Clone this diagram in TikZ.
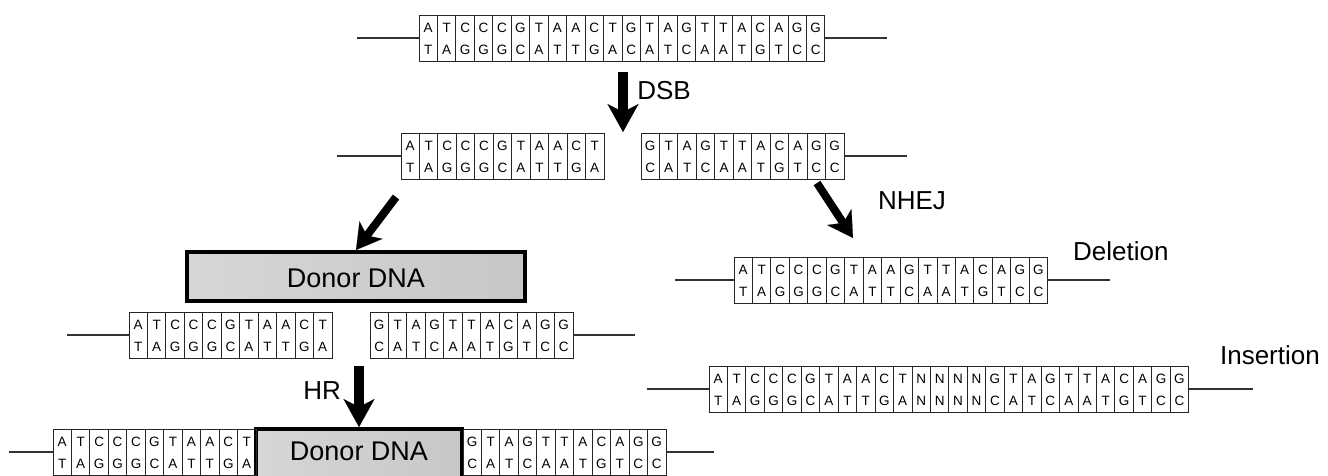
\documentclass[tikz,border=0pt]{standalone}
\usepackage{fontspec}
\setmainfont{Liberation Sans}
\usetikzlibrary{arrows.meta}
\def\cw{18.45}
\def\rh{23}
\tikzset{
  nt/.style={inner sep=0pt, text height=9.7pt, text depth=0pt, font=\fontsize{13.5}{13.5}\selectfont},
  cell/.style={draw=black!85, line width=0.9pt},
  strand/.style={draw=black!80, line width=1.2pt},
  lab/.style={inner sep=0pt, font=\fontsize{26}{26}\selectfont, text height=18.6pt, text depth=0pt},
  dtext/.style={inner sep=0pt, font=\fontsize{27}{27}\selectfont, text height=19.3pt, text depth=0pt},
  bigarrow/.style={line width=9.5pt, -{Stealth[length=28pt,width=31pt,inset=8pt,line width=0.1pt]}},
  diagarrow/.style={line width=8pt, -{Stealth[length=25pt,width=29pt,inset=7pt,line width=0.1pt]}},
  donorbox/.style={draw=black, line width=4pt, left color=black!16, middle color=black!2, right color=black!22, inner sep=0pt},
}
\newcommand\dnablock[6]{%
  \foreach \k in {1,...,#4}{
    \draw[cell] ({#2+(\k-1)*\cw},{#3-\rh}) rectangle ++(\cw,{2*\rh});
  }
  \foreach \l [count=\k] in {#5}{
    \node[nt] (#1t\k) at ({#2+(\k-0.5)*\cw},{#3-10.5}) {\l};
  }
  \foreach \l [count=\k] in {#6}{
    \node[nt] (#1b\k) at ({#2+(\k-0.5)*\cw},{#3+11.5}) {\l};
  }
}
\begin{document}
\begin{tikzpicture}[x=1pt,y=-1pt]
\useasboundingbox (0,0) rectangle (1328,475);
\clip (0,0) rectangle (1328,475);
% top strand
\draw[strand] (357,38) -- (419,38);
\draw[strand] (825,38) -- (887,38);
\dnablock{top}{419}{38}{22}{A,T,C,C,C,G,T,A,A,C,T,G,T,A,G,T,T,A,C,A,G,G}{T,A,G,G,G,C,A,T,T,G,A,C,A,T,C,A,A,T,G,T,C,C}
% after DSB
\draw[strand] (337,156) -- (401,156);
\draw[strand] (844,156) -- (907,156);
\dnablock{ml}{401}{156}{11}{A,T,C,C,C,G,T,A,A,C,T}{T,A,G,G,G,C,A,T,T,G,A}
\dnablock{mr}{641}{156}{11}{G,T,A,G,T,T,A,C,A,G,G}{C,A,T,C,A,A,T,G,T,C,C}
% donor 1
\node[donorbox, minimum width=338pt, minimum height=49pt] (donor1) at (356,276.5) {};
\node[dtext] (donor1t) at (356,277.5) {Donor DNA};
% lower pair
\draw[strand] (67,335) -- (129,335);
\draw[strand] (573,335) -- (635,335);
\dnablock{ll}{129}{335}{11}{A,T,C,C,C,G,T,A,A,C,T}{T,A,G,G,G,C,A,T,T,G,A}
\dnablock{lr}{370}{335}{11}{G,T,A,G,T,T,A,C,A,G,G}{C,A,T,C,A,A,T,G,T,C,C}
% bottom
\node[donorbox, minimum width=206pt, minimum height=62pt] (donor2) at (359,460) {};
\node[dtext] (donor2t) at (359,451) {Donor DNA};
\draw[strand] (9,452) -- (53,452);
\draw[strand] (666,452) -- (714,452);
\dnablock{bl}{53}{452}{11}{A,T,C,C,C,G,T,A,A,C,T}{T,A,G,G,G,C,A,T,T,G,A}
\dnablock{br}{463}{452}{11}{G,T,A,G,T,T,A,C,A,G,G}{C,A,T,C,A,A,T,G,T,C,C}
% deletion
\draw[strand] (675,280) -- (734,280);
\draw[strand] (1048,280) -- (1110,280);
\dnablock{del}{734}{280}{17}{A,T,C,C,C,G,T,A,A,G,T,T,A,C,A,G,G}{T,A,G,G,G,C,A,T,T,C,A,A,T,G,T,C,C}
% insertion
\draw[strand] (647,389) -- (709,389);
\draw[strand] (1189,389) -- (1253,389);
\dnablock{ins}{709}{389}{26}{A,T,C,C,C,G,T,A,A,C,T,N,N,N,N,G,T,A,G,T,T,A,C,A,G,G}{T,A,G,G,G,C,A,T,T,G,A,N,N,N,N,C,A,T,C,A,A,T,G,T,C,C}
% arrows
\coordinate (dsbS) at (623,72);
\coordinate (dsbE) at (623,132);
\draw[bigarrow] (dsbS) -- (dsbE);
\coordinate (lfS) at (396,197);
\draw[diagarrow] (lfS) -- (donor1.north);
\coordinate (nhS) at (817,183);
\coordinate (nhE) at (853,238);
\draw[diagarrow] (nhS) -- (nhE);
\coordinate (hrS) at (359,366);
\draw[bigarrow] (hrS) -- (donor2.north);
% labels
\node[lab] (dsb) at (664,90) {DSB};
\node[lab] (nhej) at (912,200) {NHEJ};
\node[lab, anchor=west] (dell) at (1073,251) {Deletion};
\node[lab, anchor=east] (insl) at (1320,355) {Insertion};
\node[lab, anchor=east] (hrl) at (341,390) {HR};
\end{tikzpicture}
\end{document}
